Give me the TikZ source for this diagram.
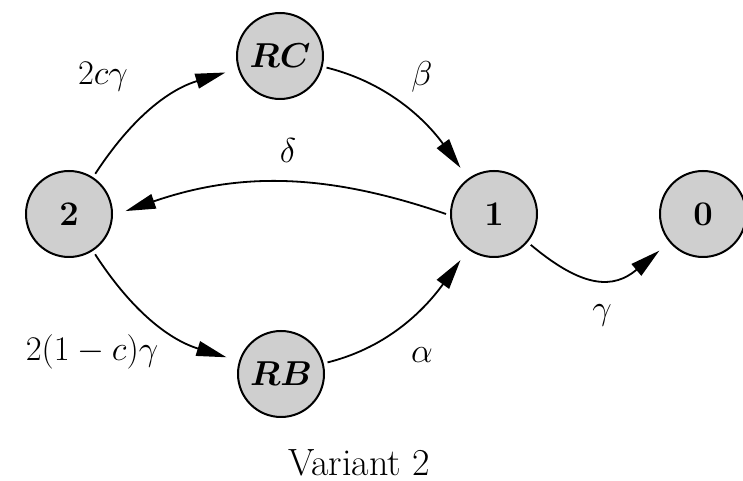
\documentclass[tikz,border=0pt]{standalone}
\usepackage{bm}
\usetikzlibrary{arrows.meta}
\definecolor{stategray}{gray}{0.81}
\begin{document}
\begin{tikzpicture}[x=0.5pt,y=0.5pt,
  state/.style={circle,draw,line width=1pt,fill=stategray,minimum size=43pt,
    inner sep=0pt,outer sep=2.5pt,font=\fontsize{19}{22}\selectfont},
  trans/.style={line width=0.9pt,-{Triangle[length=15pt,width=7.5pt]},shorten >=4.5pt},
  rate/.style={font=\fontsize{19}{22}\selectfont,inner sep=0pt}]
\useasboundingbox (0,0) rectangle (743,481);

% states
\node[state] (n2) at (69,267)  {$\mathbf{2}$};
\node[state] (rc) at (280,425) {$\bm{RC}$};
\node[state] (n1) at (494,267) {$\mathbf{1}$};
\node[state] (n0) at (703,267) {$\mathbf{0}$};
\node[state] (rb) at (281,107) {$\bm{RB}$};

% transitions
\draw[trans] (n2) to[bend left=20] (rc);
\draw[trans] (rc) to[out=-14,in=126,looseness=0.95] (n1);
\draw[trans] (n1.west) to[bend right=19] (n2.east);
\draw[trans] (n2) to[bend right=20] (rb);
\draw[trans] (rb) to[out=14,in=-126,looseness=0.95] (n1);
\draw[trans] (n1) to[out=-40,in=-140,looseness=1.3] (n0);

% rates
\node[rate] (l2c) at (103,404) {$2c\gamma$};
\node[rate] (lb)  at (422,404) {$\beta$};
\node[rate] (ld)  at (288,330) {$\delta$};
\node[rate] (l2b) at (92,129)  {$2(1-c)\gamma$};
\node[rate] (la)  at (422,126) {$\alpha$};
\node[rate] (lg)  at (602,166) {$\gamma$};

% caption
\node[rate] (cap) at (359,18) {Variant 2};
\end{tikzpicture}
\end{document}
